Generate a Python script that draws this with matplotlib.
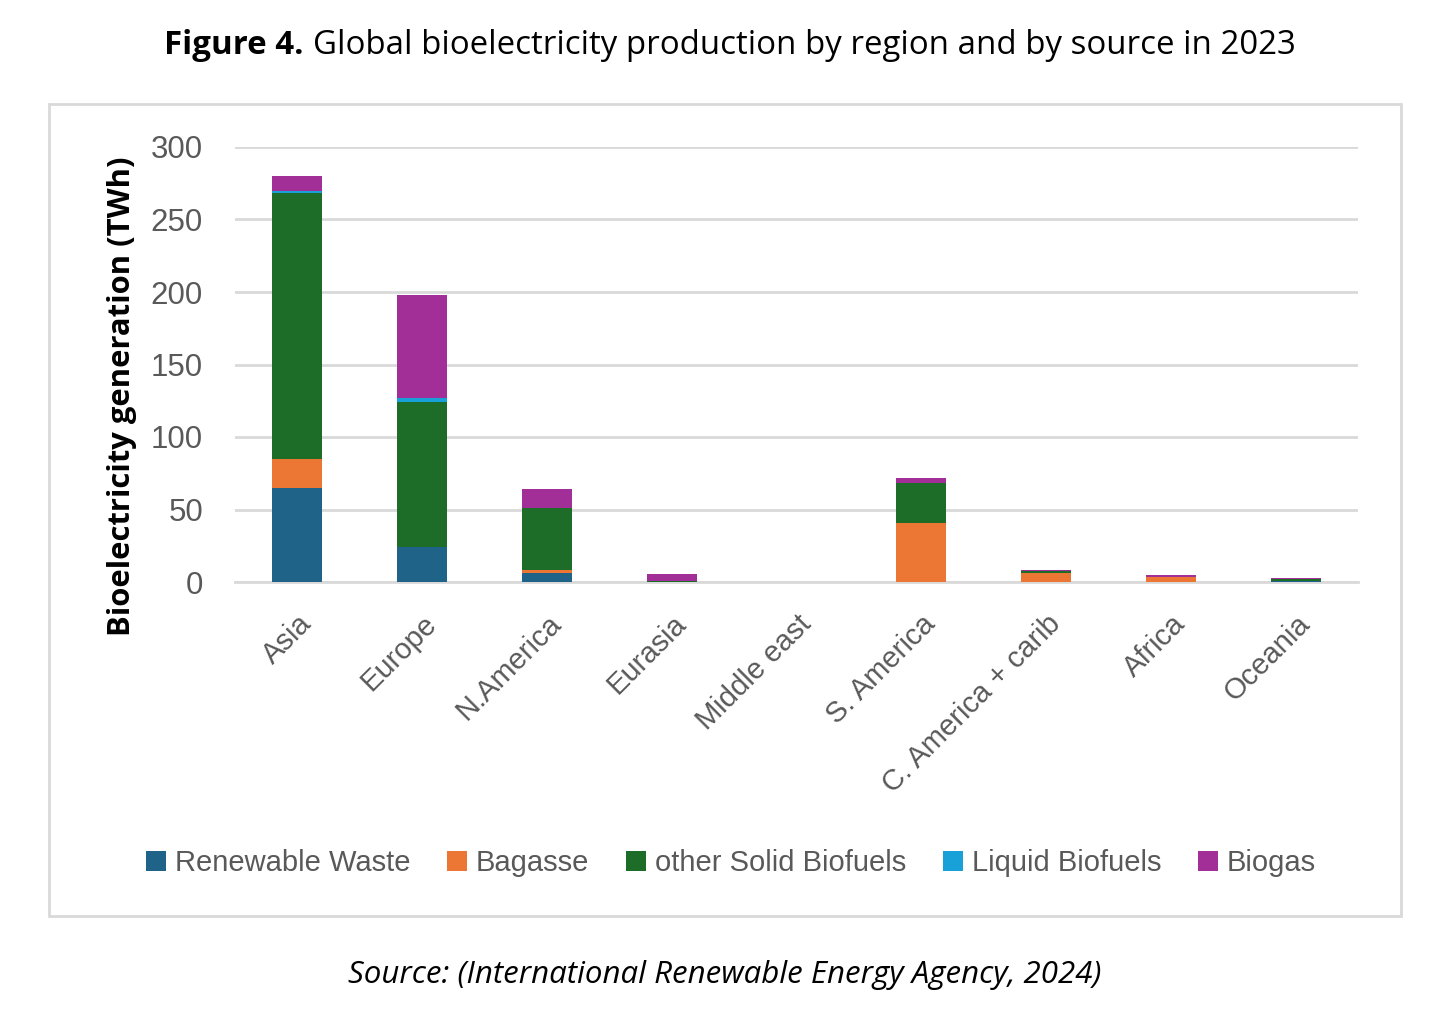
import matplotlib
matplotlib.use('Agg')
import matplotlib.pyplot as plt
from matplotlib.patches import Patch, Rectangle
import numpy as np

# data (TWh)
regions = ['Asia', 'Europe', 'N.America', 'Eurasia', 'Middle east', 'S. America',
           'C. America + carib', 'Africa', 'Oceania']
renewable_waste = [65, 24, 6.5, 0.3, 0.0, 0.0, 0.3, 0.2, 0.5]
bagasse = [20, 0.0, 1.5, 0.0, 0.0, 40.5, 6, 3, 0.2]
solid_biofuels = [183, 100, 43, 0.5, 0.0, 27.5, 1.5, 0.3, 1.5]
liquid_biofuels = [2, 3, 0.3, 0.0, 0.0, 0.2, 0.1, 0.0, 0.0]
biogas = [10, 71, 13, 5, 0.0, 3.5, 0.5, 1, 0.6]

series = ['Renewable Waste', 'Bagasse', 'other Solid Biofuels', 'Liquid Biofuels', 'Biogas']
colors = ['#1F6388', '#EC7633', '#1D6D28', '#18A0D8', '#A12F97']

W, H = 1446, 1018
fig = plt.figure(figsize=(W / 100, H / 100), dpi=100)
plt.rcParams['font.family'] = ['Liberation Sans', 'DejaVu Sans']
title_font = ['Open Sans', 'DejaVu Sans']

# chart frame
fig.patches.append(Rectangle((49 / W, 1 - 916 / H), 1352 / W, 812 / H,
                             transform=fig.transFigure, fill=False,
                             edgecolor='#D9D9D9', linewidth=2))

ax = fig.add_axes([235 / W, 1 - 582 / H, 1123 / W, 435 / H])
x = np.arange(len(regions))
bottom = np.zeros(len(regions))
data = [renewable_waste, bagasse, solid_biofuels, liquid_biofuels, biogas]
for vals, c, name in zip(data, colors, series):
    ax.bar(x, vals, width=0.4, bottom=bottom, color=c, label=name, zorder=3)
    bottom += np.array(vals)

ax.set_xlim(-0.5, len(regions) - 0.5)
ax.set_ylim(0, 300)
ax.set_yticks(range(0, 301, 50))
ax.yaxis.grid(True, color='#D9D9D9', linewidth=2, zorder=0)
for s in ['top', 'right', 'left']:
    ax.spines[s].set_visible(False)
ax.spines['bottom'].set_color('#D9D9D9')
ax.spines['bottom'].set_linewidth(2)
ax.tick_params(axis='both', length=0, labelsize=21, labelcolor='#595959')
ax.tick_params(axis='y', pad=23, labelsize=22.5)
ax.set_xticks(x)
ax.set_xticklabels(regions, rotation=45, ha='right', rotation_mode='anchor')
ax.tick_params(axis='x', pad=20)

fig.text(122 / W, 1 - 396 / H, 'Bioelectricity generation (TWh)', rotation=90,
         ha='center', va='center', fontsize=22.3, fontweight='bold',
         family=title_font)

handles = [Patch(facecolor=c, edgecolor='none') for c in colors]
fig.legend(handles, series, loc='center', bbox_to_anchor=(731 / W, 1 - 863 / H),
           ncol=5, frameon=False, fontsize=21, handlelength=0.7, handleheight=0.7,
           handletextpad=0.3, columnspacing=1.25, labelcolor='#595959')

fig.text(303 / W, 1 - 46 / H, 'Figure 4.', ha='right', va='center', fontsize=23.8,
         fontweight='bold', family=title_font)
fig.text(313 / W, 1 - 46 / H, 'Global bioelectricity production by region and by source in 2023',
         ha='left', va='center', fontsize=23.8, family=title_font)
fig.text(725 / W, 1 - 975 / H, 'Source: (International Renewable Energy Agency, 2024)',
         ha='center', va='center', fontsize=22.5, style='italic',
         family=title_font)

fig.savefig('out.png', dpi=100)
